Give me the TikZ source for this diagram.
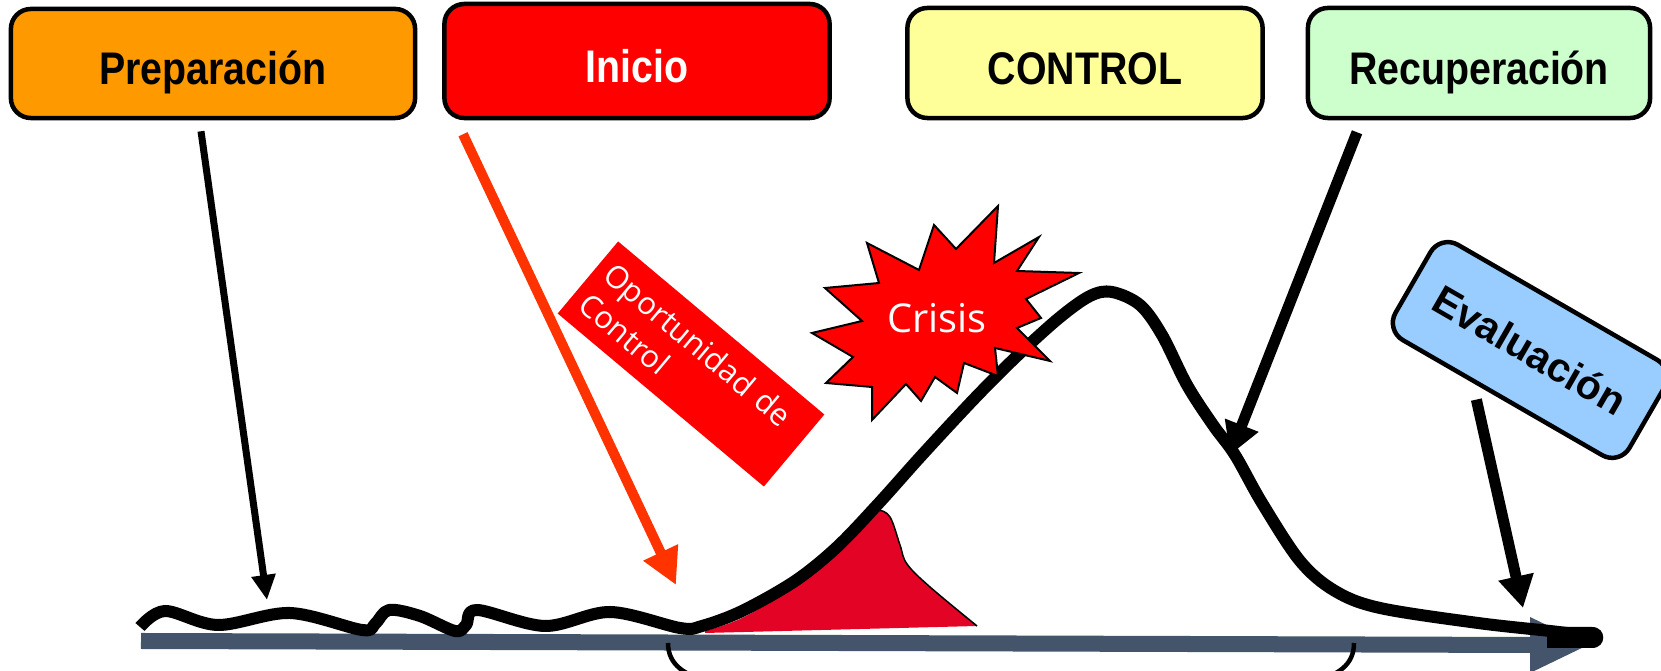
\documentclass[tikz,border=0pt]{standalone}
\usepackage{fontspec}
\setmainfont{Liberation Sans}
\newfontfamily\labelfont{Liberation Sans}[FakeStretch=0.86]
\newfontfamily\osans{Open Sans}
\usetikzlibrary{arrows.meta}
\definecolor{prepc}{HTML}{FF9900}
\definecolor{inicioc}{HTML}{FF0000}
\definecolor{controlc}{HTML}{FFFF99}
\definecolor{recupc}{HTML}{CCFFCC}
\definecolor{evalc}{HTML}{99CCFF}
\definecolor{arrowor}{HTML}{FF3300}
\definecolor{axisc}{HTML}{44546A}
\definecolor{humpc}{HTML}{E30425}
\begin{document}
\begin{tikzpicture}[x=0.01cm,y=-0.01cm,
  topbox/.style={draw=black, line width=0.045cm, rounded corners=0.2cm,
    text height=0.43cm, text depth=0cm, inner sep=0pt,
    font=\labelfont\bfseries\fontsize{13}{15}\selectfont},
  evalbox/.style={draw=black, line width=0.045cm, rounded corners=0.2cm, fill=evalc,
    inner sep=0pt, font=\bfseries\fontsize{11.6}{14}\selectfont},
  thinarrow/.style={draw=black, line width=0.07cm, -{Triangle[length=0.25cm,width=0.23cm]}},
  bigarrow/.style={draw=black, line width=0.11cm, -{Triangle[length=0.32cm,width=0.34cm]}},
  orarrow/.style={draw=arrowor, line width=0.1cm, -{Triangle[length=0.36cm,width=0.36cm]}},
  curveline/.style={draw=black, line width=0.12cm, line join=round}
]
\useasboundingbox (0,0) rectangle (1661,671);
\clip (0,0) rectangle (1661,671);

% axis
\draw[axisc, line width=0.16cm] (141,641) -- (1535,645);
\fill[axisc] (1530,617) -- (1588,645) -- (1530,673) -- cycle;
% brace under the axis
\draw[line width=0.045cm] (668,643) .. controls (668,665) and (685,676) .. (712,682)
  -- (1310,682) .. controls (1338,676) and (1354,665) .. (1354,643);

% red hump
\fill[humpc] (705,633) -- plot[smooth, tension=0.6] coordinates {(705,631) (742,618) (790,589) (823,562) (857,525) (870,513) (878,510) (890,517) (900,545) (907,564) (930,587) (977,626)} -- cycle;
\draw[line width=0.015cm] plot[smooth, tension=0.6] coordinates {(870,513) (878,510) (890,517) (900,545) (907,564) (930,587) (977,626)};

% main curve
\draw[curveline] plot[smooth, tension=0.55] coordinates {(140,627) (165,611) (218,625) (290,613) (362,630) (375,624) (389,610) (420,616) (455,631) (466,625) (477,610) (545,626) (610,612) (680,628) (702,626) (742,611) (795,581) (837,547) (879,503) (922,455) (975,398) (1017,356) (1059,318) (1090,296) (1112,292) (1140,305) (1162,335) (1187,385) (1213,425) (1235,455) (1262,503) (1300,561) (1335,591) (1380,608) (1478,623) (1550,631) (1592,636)};
\fill (1547,627) -- (1592,627) .. controls (1607,627) and (1607,648) .. (1592,648) -- (1547,648) -- cycle;

% crisis star
\draw[fill=red, line width=0.02cm, line join=miter] (998,206) -- (994,263) -- (1039,237) -- (1017,271) -- (1079,273) -- (1026,299) -- (1041,318) -- (1017,328) -- (1050,361) -- (995,348) -- (998,376) -- (964,363) -- (957,393) -- (935,377) -- (921,401) -- (906,384) -- (872,420) -- (872,387) -- (826,383) -- (853,357) -- (812,333) -- (862,321) -- (825,288) -- (879,283) -- (867,243) -- (919,270) -- (934,225) -- (956,249) -- cycle;
\node[text=white, font=\osans\fontsize{11.3}{13}\selectfont, inner sep=0pt] (crisis) at (937,318) {Crisis};

% oportunidad box
\node[rotate=-40, fill=red, text=white, minimum width=2.69cm, minimum height=0.94cm,
  text width=2.47cm, inner xsep=0.11cm, align=left,
  font=\osans\fontsize{8.8}{11.1}\selectfont] (oport) at (691,364) {Oportunidad~de\\Control};

% top boxes
\node[topbox, fill=prepc, minimum width=4.04cm, minimum height=1.09cm] (prep) at (213,63.5) {Preparación};
\node[topbox, fill=inicioc, text=white, minimum width=3.85cm, minimum height=1.14cm] (inicio) at (637,61) {Inicio};
\node[topbox, fill=controlc, minimum width=3.55cm, minimum height=1.10cm] (control) at (1085,63) {CONTROL};
\node[topbox, fill=recupc, minimum width=3.42cm, minimum height=1.10cm] (recup) at (1479,63) {Recuperación};

% evaluacion box
\node[evalbox, rotate=-30, minimum width=2.70cm, minimum height=1.10cm] (eval) at (1530,350) {Evaluación};

% arrow targets
\coordinate (t1) at (267,600);
\coordinate (t2) at (676,585);
\coordinate (t3) at (1230,455);
\coordinate (t4) at (1523,608);

% arrows
\draw[thinarrow] ([shift={(-12,11)}]prep.south) -- (t1);
\draw[orarrow] ([shift={(-174,14)}]inicio.south) -- (t2);
\draw[bigarrow] ([shift={(-122,12)}]recup.south) -- (t3);
\draw[bigarrow] ([shift={(-25,0)}]eval.south) -- (t4);
\end{tikzpicture}
\end{document}
